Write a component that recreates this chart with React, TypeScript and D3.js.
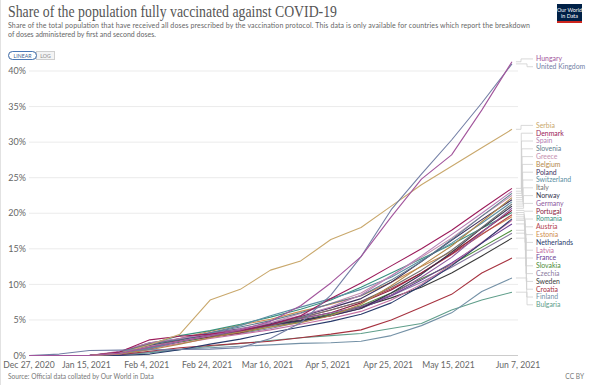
import React from "react";
import * as d3 from "d3";

// sampled every 10 days
const dates = [
  "2020-12-27", "2021-01-06", "2021-01-16", "2021-01-26", "2021-02-05", "2021-02-15",
  "2021-02-25", "2021-03-07", "2021-03-17", "2021-03-27", "2021-04-06", "2021-04-16",
  "2021-04-26", "2021-05-06", "2021-05-16", "2021-05-26", "2021-06-05",
];

const xTickDates = [
  "2020-12-27", "2021-01-15", "2021-02-04", "2021-02-24", "2021-03-16",
  "2021-04-05", "2021-04-25", "2021-05-15", "2021-06-07",
];
const yTicks = [0, 5, 10, 15, 20, 25, 30, 35, 40];

const hungary = [0, 0, 0, 0.3, 1.2, 2.0, 2.8, 3.6, 4.8, 7.0, 10.2, 13.9, 19.5, 24.8, 28.2, 34.5, 41.3];
const unitedKingdom = [0, 0.2, 0.7, 0.75, 0.8, 0.85, 0.9, 1.1, 2.4, 4.6, 8.5, 13.9, 20.5, 25.5, 30.3, 35.5, 41.0];
const serbia = [0, 0, 0, 0.3, 1.5, 3.0, 7.8, 9.3, 12.0, 13.3, 16.3, 18.0, 21.0, 24.0, 26.6, 29.2, 31.8];
const denmark = [0, 0, 0, 0.5, 2.2, 2.7, 3.0, 3.5, 4.3, 5.6, 8.0, 10.2, 12.6, 15.0, 17.6, 20.6, 23.5];
const spain = [0, 0, 0, 0.6, 1.8, 2.4, 3.0, 3.6, 4.6, 5.6, 6.8, 8.5, 11.2, 14.0, 17.0, 20.0, 23.1];
const slovenia = [0, 0, 0, 0.4, 1.5, 2.3, 3.2, 4.0, 4.9, 6.0, 7.3, 8.4, 10.6, 13.2, 16.3, 19.6, 22.8];
const greece = [0, 0, 0, 0.3, 1.3, 2.0, 2.8, 3.7, 4.6, 5.9, 7.3, 8.8, 11.2, 13.8, 16.5, 19.6, 22.5];
const belgium = [0, 0, 0, 0.2, 0.8, 1.6, 2.5, 3.3, 4.0, 4.6, 5.6, 7.2, 9.8, 12.6, 15.4, 18.8, 22.2];
const poland = [0, 0, 0, 0.3, 1.4, 2.3, 3.0, 3.7, 4.5, 5.5, 6.7, 8.0, 10.3, 13.2, 16.2, 19.1, 21.9];
const switzerland = [0, 0, 0, 0.2, 1.0, 2.0, 3.2, 4.2, 5.6, 6.8, 8.0, 9.3, 11.0, 13.4, 15.8, 18.6, 21.6];
const italy = [0, 0, 0, 0.4, 1.7, 2.2, 2.7, 3.4, 4.2, 5.3, 6.4, 7.6, 9.6, 12.0, 14.8, 18.0, 21.3];
const norway = [0, 0, 0, 0.5, 1.8, 2.3, 2.8, 3.4, 4.3, 4.9, 5.6, 6.6, 8.8, 11.4, 14.5, 17.9, 21.0];
const germany = [0, 0, 0, 0.3, 1.5, 2.4, 3.2, 3.8, 4.5, 5.2, 6.0, 6.9, 8.5, 11.0, 13.8, 17.3, 20.7];
const portugal = [0, 0, 0, 0.4, 1.6, 2.2, 2.6, 3.2, 4.3, 5.2, 6.0, 7.4, 9.2, 11.6, 14.3, 17.4, 20.4];
const romania = [0, 0, 0, 0.3, 1.6, 2.8, 3.5, 4.4, 5.4, 6.5, 7.8, 9.6, 11.6, 13.6, 15.6, 17.9, 20.1];
const austria = [0, 0, 0, 0.2, 1.0, 2.1, 2.9, 3.6, 4.4, 5.3, 6.4, 7.6, 9.4, 11.6, 14.2, 17.0, 19.8];
const estonia = [0, 0, 0, 0.3, 1.4, 2.4, 3.4, 4.3, 5.1, 6.2, 7.2, 8.4, 10.3, 12.5, 14.6, 17.1, 19.5];
const netherlands = [0, 0, 0, 0, 0.2, 0.8, 1.6, 2.3, 3.2, 4.0, 4.8, 5.8, 7.4, 9.8, 12.6, 15.8, 19.2];
const latvia = [0, 0, 0, 0.2, 1.0, 1.7, 2.4, 3.0, 3.6, 4.4, 5.2, 6.2, 7.8, 10.0, 12.8, 15.9, 19.0];
const france = [0, 0, 0, 0.1, 0.9, 2.0, 2.8, 3.5, 4.2, 4.9, 5.6, 6.6, 8.4, 10.6, 13.0, 15.8, 18.5];
const slovakia = [0, 0, 0, 0.3, 1.2, 1.9, 2.6, 3.2, 4.0, 4.8, 5.8, 7.0, 8.8, 10.8, 12.8, 15.2, 17.6];
const czechia = [0, 0, 0, 0.2, 1.1, 1.9, 2.6, 3.1, 3.8, 4.7, 5.7, 6.9, 8.4, 10.3, 12.4, 14.8, 17.2];
const sweden = [0, 0, 0, 0.3, 1.3, 2.1, 2.9, 3.6, 4.3, 5.0, 5.8, 6.8, 8.1, 9.6, 11.6, 14.0, 16.5];
const croatia = [0, 0, 0, 0.1, 0.6, 1.1, 1.4, 1.7, 2.0, 2.5, 3.0, 3.6, 5.0, 6.8, 8.6, 11.6, 13.7];
const finland = [0, 0, 0, 0.1, 0.5, 0.9, 1.1, 1.3, 1.5, 1.7, 1.8, 2.0, 2.8, 4.2, 6.0, 9.0, 10.9];
const bulgaria = [0, 0, 0, 0.1, 0.4, 0.8, 1.3, 1.7, 2.1, 2.5, 2.8, 3.1, 3.8, 4.5, 6.4, 7.8, 8.9];

const series = [
  { name: "Hungary", values: hungary },
  { name: "United Kingdom", values: unitedKingdom },
  { name: "Serbia", values: serbia },
  { name: "Denmark", values: denmark },
  { name: "Spain", values: spain },
  { name: "Slovenia", values: slovenia },
  { name: "Greece", values: greece },
  { name: "Belgium", values: belgium },
  { name: "Poland", values: poland },
  { name: "Switzerland", values: switzerland },
  { name: "Italy", values: italy },
  { name: "Norway", values: norway },
  { name: "Germany", values: germany },
  { name: "Portugal", values: portugal },
  { name: "Romania", values: romania },
  { name: "Austria", values: austria },
  { name: "Estonia", values: estonia },
  { name: "Netherlands", values: netherlands },
  { name: "Latvia", values: latvia },
  { name: "France", values: france },
  { name: "Slovakia", values: slovakia },
  { name: "Czechia", values: czechia },
  { name: "Sweden", values: sweden },
  { name: "Croatia", values: croatia },
  { name: "Finland", values: finland },
  { name: "Bulgaria", values: bulgaria },
];

const colors: Record<string, string> = {
  Hungary: "#a2559c",
  "United Kingdom": "#737fa5",
  Serbia: "#c9a86c",
  Denmark: "#9b1b5a",
  Spain: "#b67fb5",
  Slovenia: "#5f7d8e",
  Greece: "#c490b0",
  Belgium: "#b4884c",
  Poland: "#3c2f5e",
  Switzerland: "#5b8fa3",
  Italy: "#707070",
  Norway: "#33334d",
  Germany: "#8d5a9e",
  Portugal: "#8b1e3f",
  Romania: "#38917f",
  Austria: "#b3434d",
  Estonia: "#cf8d4f",
  Netherlands: "#283a6b",
  Latvia: "#c46fa2",
  France: "#6b3d94",
  Slovakia: "#4d8c3a",
  Czechia: "#8a7aa0",
  Sweden: "#3a3a3a",
  Croatia: "#a6323f",
  Finland: "#7491a6",
  Bulgaria: "#5f9e8a",
};

const parse = d3.timeParse("%Y-%m-%d");
const fmt = d3.timeFormat("%b %-d, %Y");
const font = "Lato, sans-serif";

const x = d3.scaleTime()
  .domain([parse("2020-12-27")!, parse("2021-06-07")!])
  .range([29, 518]);
const y = d3.scaleLinear().domain([0, 40]).range([355.5, 71]);

const line = d3.line<[Date, number]>()
  .x((d) => x(d[0]))
  .y((d) => y(d[1]));

// push overlapping labels apart as centred blocks
function layoutLabels(targets: number[], gap: number) {
  let groups = targets.map((t, i) => ({ idx: [i], top: t }));
  const place = (g: { idx: number[] }) =>
    d3.mean(g.idx.map((k, j) => targets[k] - j * gap))!;
  let changed = true;
  while (changed) {
    changed = false;
    for (let i = 0; i < groups.length - 1; i++) {
      const a = groups[i], b = groups[i + 1];
      if (b.top - (a.top + (a.idx.length - 1) * gap) < gap) {
        const idx = a.idx.concat(b.idx);
        const g = { idx, top: 0 };
        g.top = place(g);
        groups.splice(i, 2, g);
        changed = true;
        break;
      }
    }
  }
  const out: { y: number; pos: number; size: number }[] = [];
  groups.forEach((g) =>
    g.idx.forEach((k, j) => {
      out[k] = { y: g.top + j * gap, pos: j, size: g.idx.length };
    })
  );
  return out;
}

export default function App() {
  const parsedDates = dates.map((d) => parse(d)!);
  const sorted = [...series].sort(
    (a, b) => b.values[b.values.length - 1] - a.values[a.values.length - 1]
  );
  const ends = sorted.map((s) => y(s.values[s.values.length - 1]));
  const labels = layoutLabels(ends, 7.8);
  const lastX = x(parsedDates[parsedDates.length - 1]);
  const labelX = 536;

  return (
    <svg
      width={591}
      height={385}
      style={{ position: "absolute", left: 0, top: 0, background: "#fff" }}
      fontFamily={font}
    >
      <line x1={0.5} x2={0.5} y1={0} y2={385} stroke="#e2e2e2" />

      <text x={8} y={17} fontFamily="'Liberation Serif', serif" fontSize={17}
        fill="#555" textLength={329} lengthAdjust="spacingAndGlyphs">
        Share of the population fully vaccinated against COVID-19
      </text>
      <text x={8} y={28} fontSize={7} fill="#666" textLength={522} lengthAdjust="spacing">
        Share of the total population that have received all doses prescribed by the vaccination protocol. This data is only available for countries which report the breakdown
      </text>
      <text x={8} y={37} fontSize={7} fill="#666">
        of doses administered by first and second doses.
      </text>

      {/* linear / log toggle */}
      <rect x={8.5} y={51.5} width={28} height={8} rx={4} fill="#fff" stroke="#cfcfcf" />
      <rect x={36.5} y={51.5} width={18} height={8} fill="#f4f4f4" stroke="#cfcfcf" />
      <rect x={8.5} y={51.5} width={28} height={8} rx={4} fill="none" stroke="#4a78b5" />
      <text x={22.5} y={57.8} fontSize={5.2} fill="#3d5f8f" textAnchor="middle">LINEAR</text>
      <text x={45.5} y={57.8} fontSize={5.2} fill="#888" textAnchor="middle">LOG</text>

      {/* logo */}
      <rect x={557} y={4} width={25} height={19} fill="#002147" />
      <rect x={557} y={21} width={25} height={2} fill="#ce261e" />
      <text x={569.5} y={11.5} fontSize={5.4} fill="#fff" textAnchor="middle">Our World</text>
      <text x={569.5} y={17.5} fontSize={5.4} fill="#fff" textAnchor="middle">in Data</text>

      {/* grid + y ticks */}
      {yTicks.map((t) => (
        <g key={t}>
          <line x1={29} x2={518} y1={y(t)} y2={y(t)}
            stroke={t === 0 ? "#cccccc" : "#ebebeb"} strokeWidth={1} />
          <text x={26} y={y(t)} dy="0.35em" fontSize={9} fill="#666" textAnchor="end">
            {t}%
          </text>
        </g>
      ))}

      {/* x ticks */}
      {xTickDates.map((d) => {
        const dt = parse(d)!;
        return (
          <text key={d} x={x(dt)} y={367.5} fontSize={8.6} fill="#666" textAnchor="middle">
            {fmt(dt)}
          </text>
        );
      })}

      {/* series */}
      {[...series].reverse().map((s) => (
        <path
          key={s.name}
          d={line(parsedDates.map((d, i) => [d, s.values[i]] as [Date, number]))!}
          fill="none"
          stroke={colors[s.name]}
          strokeWidth={1.1}
          strokeLinejoin="round"
        />
      ))}

      {/* labels + connectors */}
      {sorted.map((s, i) => {
        const lab = labels[i];
        const yEnd = ends[i];
        const xMid = 521 + (lab.size > 1 ? (lab.pos / (lab.size - 1)) * 6 : 3);
        return (
          <g key={s.name}>
            <path
              d={`M${lastX + 4},${yEnd}H${xMid}V${lab.y}H${labelX - 3}`}
              fill="none"
              stroke="#cfcfcf"
              strokeWidth={0.8}
            />
            <text x={labelX} y={lab.y} dy="0.35em" fontSize={6.9} fill={colors[s.name]}>
              {s.name}
            </text>
          </g>
        );
      })}

      <text x={8} y={379} fontSize={6.6} fill="#777">
        Source: Official data collated by Our World in Data
      </text>
      <text x={584} y={379} fontSize={6.6} fill="#777" textAnchor="end">CC BY</text>
    </svg>
  );
}
